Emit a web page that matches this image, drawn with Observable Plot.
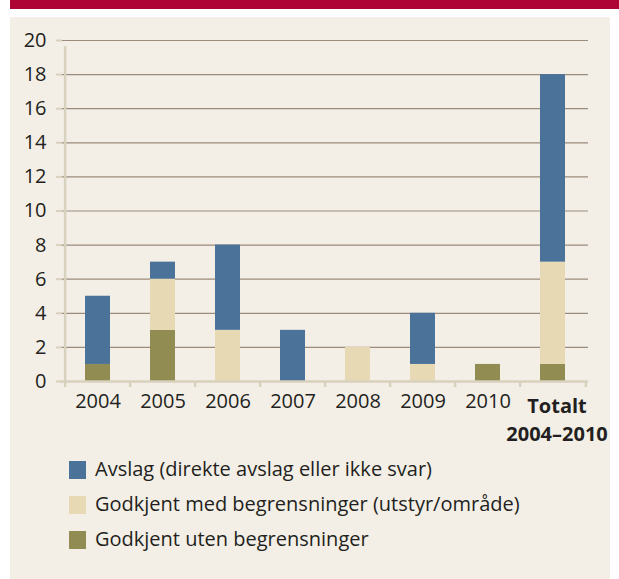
<!DOCTYPE html>
<html><head><meta charset="utf-8">
<script src="https://cdn.jsdelivr.net/npm/d3@7"></script>
<script src="https://cdn.jsdelivr.net/npm/@observablehq/plot@0.6"></script>
<style>
body{margin:0;background:#fff;font-family:"Open Sans",sans-serif;}
#bar{position:absolute;left:10px;top:0;width:609px;height:9px;background:#ad0435;}
#panel{position:absolute;left:10px;top:17px;width:600px;height:562px;background:#f3efe7;}
#chart{position:absolute;left:0;top:0;}
#legend{position:absolute;left:59px;top:441px;}
.item{position:relative;height:35px;font-size:20px;color:#231f20;}
.sw{position:absolute;left:0;top:3px;width:17px;height:18px;}
.lab{position:absolute;left:26px;top:-3px;white-space:nowrap;}
</style></head>
<body>
<div id="bar"></div>
<div id="panel"><div id="chart"></div><div id="legend"></div></div>
<script>
const categories = ["2004","2005","2006","2007","2008","2009","2010","Totalt\n2004–2010"];
const seriesNames = ["Godkjent uten begrensninger","Godkjent med begrensninger (utstyr/område)","Avslag (direkte avslag eller ikke svar)"];
const uten  = [1,3,0,0,0,0,1,1];
const med   = [0,3,3,0,2,1,0,6];
const avslag= [4,1,5,3,0,3,0,11];
const colors = ["#918d52","#e6d9b4","#4b7298"];
const yTicks = [0,2,4,6,8,10,12,14,16,18,20];
const legendOrder = [2,1,0];

const data = [];
categories.forEach((c,i)=>{
  [uten,med,avslag].forEach((arr,k)=>data.push({cat:c, series:seriesNames[k], value:arr[i]}));
});

const W=600,H=440, mL=52, mR=22, mT=23, mB=76;
const step=(W-mL-mR)/categories.length;
const last=categories[categories.length-1];

const plot = Plot.plot({
  width:W, height:H, marginLeft:mL, marginRight:mR, marginTop:mT, marginBottom:mB,
  style:{background:"transparent", fontFamily:"Open Sans, sans-serif", fontSize:"20px", color:"#231f20", overflow:"visible"},
  x:{domain:categories, paddingInner:0.62, paddingOuter:0.31, axis:null, label:null},
  y:{domain:[0,20], axis:null, label:null},
  color:{domain:seriesNames, range:colors},
  marks:[
    Plot.ruleY(yTicks.filter(d=>d>0), {stroke:"#9b8b7b", strokeWidth:1.2}),
    Plot.barY(data, {x:"cat", y:"value", fill:"series", order:seriesNames}),
    Plot.ruleY([0], {stroke:"#d8d1bd", strokeWidth:2.5, insetLeft:-2}),
    Plot.ruleX([0], {x:()=>categories[0], dx:-step/2, y1:0, y2:20, stroke:"#d8d1bd", strokeWidth:2.5, insetBottom:-6}),
    Plot.axisY({ticks:yTicks, tickSize:6, tickPadding:10, stroke:"#d8d1bd", strokeWidth:2, fontSize:20, fill:"#231f20", label:null}),
    Plot.axisX({tickSize:6, text:null, dx:-step/2, stroke:"#d8d1bd", strokeWidth:2.5, label:null}),
    Plot.axisX({ticks:[last], tickSize:6, text:null, dx:step/2, stroke:"#d8d1bd", strokeWidth:2.5, label:null}),
    Plot.text(categories.slice(0,-1), {x:d=>d, frameAnchor:"bottom", lineAnchor:"top", dy:12, fontSize:20, fill:"#231f20"}),
    Plot.text([last], {x:d=>d, frameAnchor:"bottom", lineAnchor:"top", dy:12, lineHeight:1.4, fontSize:20, fontWeight:"bold", fill:"#231f20", dx:4})
  ]
});
document.getElementById("chart").appendChild(plot);

const leg=document.getElementById("legend");
legendOrder.forEach(k=>{
  const it=document.createElement("div"); it.className="item";
  it.innerHTML=`<div class="sw" style="background:${colors[k]}"></div><div class="lab">${seriesNames[k]}</div>`;
  leg.appendChild(it);
});
</script>
</body></html>
